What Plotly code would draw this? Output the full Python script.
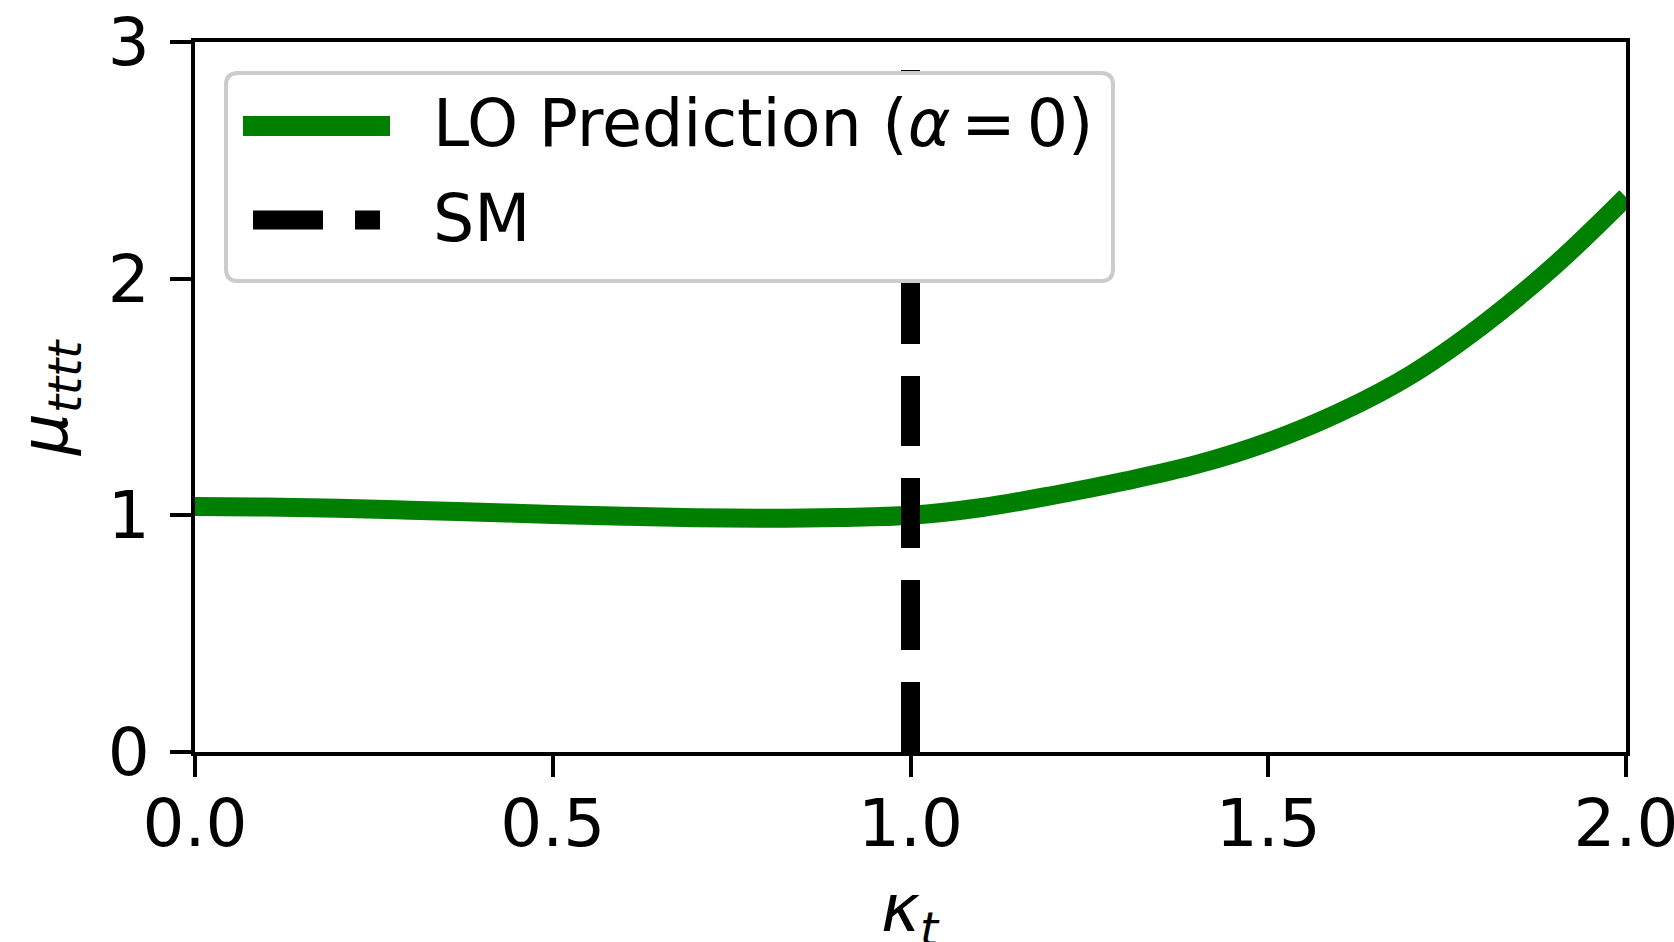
import plotly.graph_objects as go

# ---- data ----
kappa_t = [0.0, 0.1, 0.2, 0.3, 0.4, 0.5, 0.6, 0.7, 0.8, 0.9, 1.0,
           1.1, 1.2, 1.3, 1.4, 1.5, 1.6, 1.7, 1.8, 1.9, 2.0]
mu_tttt = [1.037, 1.035, 1.030, 1.022, 1.013, 1.004, 0.996, 0.990, 0.988, 0.991, 1.000,
           1.033, 1.085, 1.145, 1.215, 1.310, 1.435, 1.595, 1.805, 2.055, 2.345]
sm_x = [1.0, 1.0]
sm_y = [0.0, 3.0]
x_ticks = [0.0, 0.5, 1.0, 1.5, 2.0]
x_tick_labels = ["0.0", "0.5", "1.0", "1.5", "2.0"]
y_ticks = [0, 1, 2, 3]
y_tick_labels = ["0", "1", "2", "3"]
legend_labels = ["LO Prediction (<i>α</i>\u2006=\u20060)", "SM"]
x_title = "<i>κ</i><sub><i>t</i></sub>"
y_title = "<i>μ</i><sub><i>tttt</i></sub>"

W, H = 1674, 942
L, R, T, B = 195, 1626, 42, 752  # plot area in pixels
FONT = "DejaVu Sans"
FS = 66
DASH = "70px,32px"


def px(x):
    return (x - L) / (R - L)


def py(y):
    return (B - y) / (B - T)


fig = go.Figure()
fig.add_trace(go.Scatter(x=kappa_t, y=mu_tttt, mode="lines", line=dict(color="#008000", width=19, shape="spline"),
                         showlegend=False, hoverinfo="skip"))
fig.add_trace(go.Scatter(x=sm_x, y=sm_y, mode="lines",
                         line=dict(color="black", width=19, dash=DASH),
                         showlegend=False, hoverinfo="skip"))

# manual legend box (rounded)
x0, x1, y0, y1, r = px(226), px(1113), py(281), py(73), 12
rx = r / (R - L)
ry = r / (B - T)
path = (f"M {x0+rx},{y0} L {x1-rx},{y0} Q {x1},{y0} {x1},{y0+ry} L {x1},{y1-ry} Q {x1},{y1} {x1-rx},{y1} "
        f"L {x0+rx},{y1} Q {x0},{y1} {x0},{y1-ry} L {x0},{y0+ry} Q {x0},{y0} {x0+rx},{y0} Z")
shapes = [
    dict(type="path", xref="paper", yref="paper", path=path, fillcolor="white",
         line=dict(color="#cccccc", width=4), layer="above"),
    dict(type="line", xref="paper", yref="paper", x0=px(243), x1=px(390), y0=py(126), y1=py(126),
         line=dict(color="#008000", width=20), layer="above"),
    dict(type="line", xref="paper", yref="paper", x0=px(253), x1=px(380), y0=py(220), y1=py(220),
         line=dict(color="black", width=19, dash=DASH), layer="above"),
]
annotations = [
    dict(text=legend_labels[0], xref="paper", yref="paper", x=px(431), y=py(124), xanchor="left", yanchor="middle",
         showarrow=False, font=dict(family=FONT, size=65, color="black")),
    dict(text=legend_labels[1], xref="paper", yref="paper", x=px(431), y=py(218), xanchor="left", yanchor="middle",
         showarrow=False, font=dict(family=FONT, size=65, color="black")),
    dict(text=x_title, xref="paper", yref="paper", x=px(910), y=py(913), xanchor="center", yanchor="middle",
         showarrow=False, font=dict(family=FONT, size=FS, color="black")),
    dict(text=y_title, xref="paper", yref="paper", x=px(49), y=py(398), xanchor="center", yanchor="middle",
         textangle=-90, showarrow=False, font=dict(family=FONT, size=FS, color="black")),
]

axis_common = dict(showline=True, linecolor="black", linewidth=4, mirror=True, ticks="outside",
                   ticklen=21, tickwidth=4, tickcolor="black", showgrid=False, zeroline=False,
                   automargin=False, ticklabeloverflow="allow",
                   tickfont=dict(family=FONT, size=FS, color="black"))

fig.update_layout(
    width=W, height=H,
    margin=dict(l=L, r=W - R, t=T, b=H - B, autoexpand=False),
    plot_bgcolor="white", paper_bgcolor="white",
    xaxis=dict(range=[0, 2], tickvals=x_ticks, ticktext=x_tick_labels, ticklabelstandoff=-10,
               **axis_common),
    yaxis=dict(range=[0, 3], tickvals=y_ticks, ticktext=y_tick_labels, ticklabelstandoff=7,
               **axis_common),
    shapes=shapes,
    annotations=annotations,
)

fig.write_html("out.html")
